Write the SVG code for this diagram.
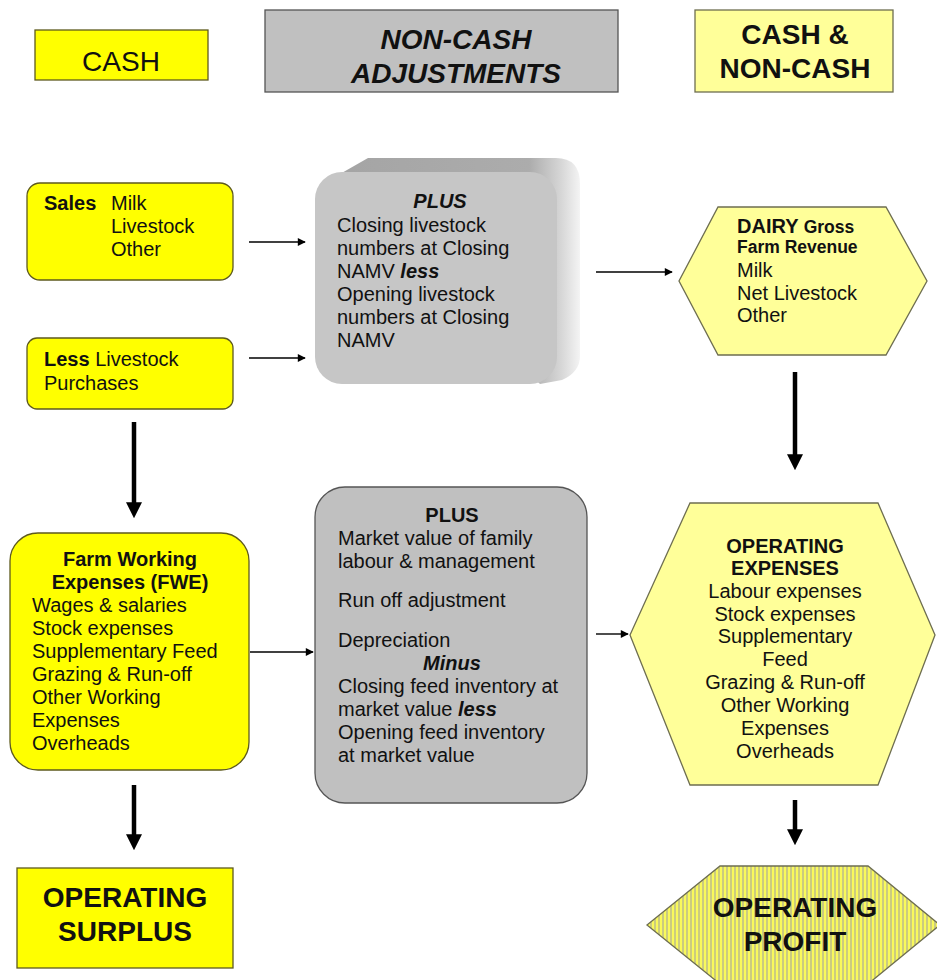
<svg xmlns="http://www.w3.org/2000/svg" width="937" height="980" viewBox="0 0 937 980">
  <style>
    text { font-family: "Liberation Sans", Arial, sans-serif; fill: #111; }
    .hdr { font-size: 28px; }
    .b { font-weight: bold; }
    .i { font-style: italic; }
    .t { font-size: 20px; }
    .sm { font-size: 17.5px; font-weight: bold; }
    .mid { text-anchor: middle; }
    .yel { fill: #ffff00; stroke: #5e5a1e; stroke-width: 1.3; }
    .lyel { fill: #ffff99; stroke: #6e6e50; stroke-width: 1.3; }
    .gray { fill: #c0c0c0; stroke: #555; stroke-width: 1.3; }
    .thin { stroke: #000; stroke-width: 1.4; fill: none; marker-end: url(#headThin); }
    .thick { stroke: #000; stroke-width: 4.5; fill: none; marker-end: url(#headThick); }
  </style>
  <defs>
    <marker id="headThin" viewBox="0 0 10 10" refX="9" refY="5" markerUnits="userSpaceOnUse" markerWidth="9" markerHeight="8" orient="auto">
      <path d="M0,0 L10,5 L0,10 z" fill="#000"/>
    </marker>
    <marker id="headThick" viewBox="0 0 10 10" refX="3" refY="5" markerUnits="userSpaceOnUse" markerWidth="16" markerHeight="16" orient="auto">
      <path d="M0,0 L10,5 L0,10 z" fill="#000"/>
    </marker>
    <linearGradient id="bevel" x1="0" y1="0" x2="1" y2="0">
      <stop offset="0" stop-color="#a4a4a4"/>
      <stop offset="0.8" stop-color="#acacac"/>
      <stop offset="0.93" stop-color="#d8d8d8"/>
      <stop offset="1" stop-color="#f4f4f4"/>
    </linearGradient>
    <pattern id="stripes" patternUnits="userSpaceOnUse" width="4" height="10">
      <rect width="4" height="10" fill="#f9f95c"/>
      <rect x="2" width="2" height="10" fill="#cbcb80"/>
    </pattern>
  </defs>

  <!-- column headers -->
  <g id="hdr-cash">
    <rect x="35" y="30" width="173" height="50" class="yel"/>
    <text x="121" y="71" class="hdr mid">CASH</text>
  </g>
  <g id="hdr-noncash">
    <rect x="265" y="10" width="353" height="82" class="gray"/>
    <text x="456" y="49" class="hdr b i mid">NON-CASH</text>
    <text x="456" y="83" class="hdr b i mid">ADJUSTMENTS</text>
  </g>
  <g id="hdr-both">
    <rect x="695" y="10" width="198" height="82" class="lyel"/>
    <text x="795" y="44" class="hdr b mid">CASH &amp;</text>
    <text x="795" y="78" class="hdr b mid">NON-CASH</text>
  </g>

  <!-- cash column -->
  <g id="sales">
    <rect x="27" y="183" width="206" height="97" rx="13" class="yel"/>
    <text x="44" y="210" class="t b">Sales</text>
    <text x="111" y="210" class="t">Milk</text>
    <text x="111" y="233" class="t">Livestock</text>
    <text x="111" y="256" class="t">Other</text>
  </g>
  <g id="purchases">
    <rect x="27" y="338" width="206" height="71" rx="10" class="yel"/>
    <text x="44" y="366" class="t"><tspan class="b">Less</tspan> Livestock</text>
    <text x="44" y="390" class="t">Purchases</text>
  </g>
  <g id="fwe">
    <rect x="10" y="533" width="239" height="237" rx="28" class="yel"/>
    <text x="130" y="566" class="t b mid">Farm Working</text>
    <text x="130" y="589" class="t b mid">Expenses (FWE)</text>
    <text x="32" y="612" class="t">Wages &amp; salaries</text>
    <text x="32" y="635" class="t">Stock expenses</text>
    <text x="32" y="658" class="t">Supplementary Feed</text>
    <text x="32" y="681" class="t">Grazing &amp; Run-off</text>
    <text x="32" y="704" class="t">Other Working</text>
    <text x="32" y="727" class="t">Expenses</text>
    <text x="32" y="750" class="t">Overheads</text>
  </g>
  <g id="surplus">
    <rect x="17" y="868" width="216" height="100" class="yel"/>
    <text x="125" y="907" class="hdr b mid">OPERATING</text>
    <text x="125" y="941" class="hdr b mid">SURPLUS</text>
  </g>

  <!-- non-cash adjustments -->
  <g id="livestock-adj">
    <path d="M326,182 L368,158 L556,158 Q580,158 580,184 L580,356 Q580,372 562,380 L540,384 Z" fill="url(#bevel)"/>
    <rect x="315" y="172" width="242" height="212" rx="27" fill="#c6c6c6"/>
    <text x="440" y="208" class="t b i mid">PLUS</text>
    <text x="337" y="232" class="t">Closing livestock</text>
    <text x="337" y="255" class="t">numbers at Closing</text>
    <text x="337" y="278" class="t">NAMV <tspan class="b i">less</tspan></text>
    <text x="337" y="301" class="t">Opening livestock</text>
    <text x="337" y="324" class="t">numbers at Closing</text>
    <text x="337" y="347" class="t">NAMV</text>
  </g>
  <g id="expense-adj">
    <rect x="315" y="487" width="272" height="316" rx="30" class="gray"/>
    <text x="452" y="522" class="t b mid">PLUS</text>
    <text x="338" y="545" class="t">Market value of family</text>
    <text x="338" y="568" class="t">labour &amp; management</text>
    <text x="338" y="607" class="t">Run off adjustment</text>
    <text x="338" y="647" class="t">Depreciation</text>
    <text x="452" y="670" class="t b i mid">Minus</text>
    <text x="338" y="693" class="t">Closing feed inventory at</text>
    <text x="338" y="716" class="t">market value <tspan class="b i">less</tspan></text>
    <text x="338" y="739" class="t">Opening feed inventory</text>
    <text x="338" y="762" class="t">at market value</text>
  </g>

  <!-- cash & non-cash column -->
  <g id="revenue">
    <polygon points="718,207 886,207 927,281 886,355 718,355 679,281" class="lyel"/>
    <text x="737" y="233" class="t b">DAIRY <tspan class="sm">Gross</tspan></text>
    <text x="737" y="253" class="sm">Farm Revenue</text>
    <text x="737" y="277" class="t">Milk</text>
    <text x="737" y="300" class="t">Net Livestock</text>
    <text x="737" y="322" class="t">Other</text>
  </g>
  <g id="op-expenses">
    <polygon points="690,503 878,503 935,635 878,785 690,785 630,635" class="lyel"/>
    <text x="785" y="553" class="t b mid">OPERATING</text>
    <text x="785" y="575" class="t b mid">EXPENSES</text>
    <text x="785" y="598" class="t mid">Labour expenses</text>
    <text x="785" y="621" class="t mid">Stock expenses</text>
    <text x="785" y="643" class="t mid">Supplementary</text>
    <text x="785" y="666" class="t mid">Feed</text>
    <text x="785" y="689" class="t mid">Grazing &amp; Run-off</text>
    <text x="785" y="712" class="t mid">Other Working</text>
    <text x="785" y="735" class="t mid">Expenses</text>
    <text x="785" y="758" class="t mid">Overheads</text>
  </g>
  <g id="profit">
    <polygon points="720,866 868,866 940,925 868,984 720,984 647,925" fill="url(#stripes)" stroke="#6e6e50" stroke-width="1.3"/>
    <text x="795" y="917" class="hdr b mid">OPERATING</text>
    <text x="795" y="951" class="hdr b mid">PROFIT</text>
  </g>

  <!-- connectors -->
  <g id="connectors">
    <line x1="249" y1="242" x2="305" y2="242" class="thin"/>
    <line x1="249" y1="358" x2="305" y2="358" class="thin"/>
    <line x1="596" y1="272" x2="672" y2="272" class="thin"/>
    <line x1="250" y1="652" x2="313" y2="652" class="thin"/>
    <line x1="596" y1="634" x2="628" y2="634" class="thin"/>
    <line x1="134" y1="422" x2="134" y2="507" class="thick"/>
    <line x1="795" y1="372" x2="795" y2="459" class="thick"/>
    <line x1="134" y1="785" x2="134" y2="839" class="thick"/>
    <line x1="795" y1="800" x2="795" y2="834" class="thick"/>
  </g>
</svg>
